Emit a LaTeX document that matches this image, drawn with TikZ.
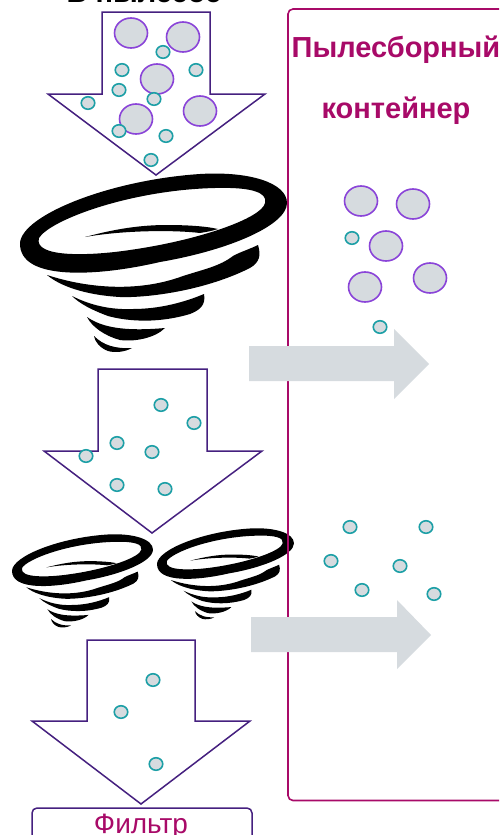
\documentclass[tikz,border=0pt]{standalone}
\usepackage{fontspec}
\setmainfont{Liberation Sans}
\usetikzlibrary{shapes.geometric}

\definecolor{flowline}{HTML}{45207F}
\definecolor{binline}{HTML}{A80A68}
\definecolor{dustfill}{HTML}{D6DBDF}
\definecolor{coarseline}{HTML}{8A44D8}
\definecolor{fineline}{HTML}{1C9FA6}

\tikzset{
  coarse/.style={ellipse,draw=coarseline,fill=dustfill,line width=1.6pt,inner sep=0pt,minimum width=33pt,minimum height=30pt},
  fine/.style={ellipse,draw=fineline,fill=dustfill,line width=1.6pt,inner sep=0pt,minimum width=13.5pt,minimum height=12.5pt},
  flow/.style={draw=flowline,line width=1.5pt,fill=white,line join=miter},
  outflow/.style={fill=dustfill,draw=none},
  title/.style={text=binline,font=\bfseries\fontsize{29}{33}\selectfont,inner sep=0pt},
  tornado/.pic={
    \begin{scope}[shift={(-20,-173)}]
    % ring, with its hole
    \fill[black,even odd rule]
      (20,243) .. controls (22,215) and (110,180) .. (200,174)
      .. controls (250,171) and (287,183) .. (287,203)
      .. controls (287,225) and (230,250) .. (160,262)
      .. controls (100,276) and (19,282) .. (20,243) -- cycle
      (39,238) .. controls (50,220) and (130,190) .. (215,188)
      .. controls (250,187) and (268,192) .. (265,203)
      .. controls (262,218) and (200,240) .. (130,250)
      .. controls (90,256) and (33,258) .. (39,238) -- cycle;
    % swirl in the hole
    \fill[black] (85,237) .. controls (115,229) and (140,225) .. (167,225)
      .. controls (185,225) and (205,226) .. (218,229)
      .. controls (212,231) and (206,232) .. (200,233)
      .. controls (175,230) and (125,230) .. (85,237) -- cycle;
    % bands going down
    \fill[black] (47,275) .. controls (90,289) and (140,292) .. (183,276)
      .. controls (205,269) and (220,266) .. (233,256)
      .. controls (240,252) and (250,249) .. (258,245)
      .. controls (261,255) and (260,262) .. (250,268)
      .. controls (200,293) and (140,298) .. (120,297)
      .. controls (85,295) and (60,286) .. (47,275) -- cycle;
    \fill[black] (72,296) .. controls (90,305) and (110,310) .. (133,309)
      .. controls (160,309) and (185,302) .. (204,294)
      .. controls (206,305) and (200,310) .. (190,314)
      .. controls (160,323) and (130,322) .. (108,316)
      .. controls (92,310) and (80,304) .. (72,296) -- cycle;
    \fill[black] (87,317) .. controls (100,326) and (120,332) .. (165,328)
      .. controls (155,338) and (135,342) .. (120,340)
      .. controls (105,336) and (92,327) .. (87,317) -- cycle;
    \fill[black] (94,336) .. controls (103,345) and (115,349) .. (132,348)
      .. controls (125,352) and (115,353) .. (108,351)
      .. controls (100,348) and (95,342) .. (94,336) -- cycle;
    \end{scope}
  }
}

\begin{document}
\begin{tikzpicture}[x=1pt,y=-1pt]
\useasboundingbox (0,0) rectangle (499,835);

\pic at (20,173) {tornado};
\pic[xscale=0.528,yscale=0.522] at (12,534) {tornado};
\pic[xscale=0.513,yscale=0.51] at (157,528) {tornado};

% container and filter, both run off the page
\draw[binline,line width=1.6pt,rounded corners=5pt] (499,9) -- (288,9) -- (288,800.5) -- (499,800.5);
\draw[flowline,line width=1.5pt,rounded corners=5pt] (32,836) -- (32,808) -- (252,808) -- (252,836);

\path[flow] (102,12) -- (210,12) -- (210,94) -- (265,94) -- (156,175) -- (48,94) -- (102,94) -- cycle;
\path[flow] (98,369) -- (207,369) -- (207,451) -- (262,451) -- (152,533) -- (44,451) -- (98,451) -- cycle;
\path[flow] (87,640) -- (195,640) -- (195,721) -- (250,721) -- (141,804) -- (32,721) -- (87,721) -- cycle;

\path[outflow] (249,346) -- (394,346) -- (394,329) -- (429,364) -- (394,399) -- (394,381) -- (249,381) -- cycle;
\path[outflow] (251,617) -- (397,617) -- (397,600) -- (431,635) -- (397,669) -- (397,652) -- (251,652) -- cycle;

\node[anchor=base,font=\bfseries\fontsize{29}{33}\selectfont,inner sep=0pt] (intake) at (144,2) {В пылесос};
\node[title,anchor=base] (binA) at (396,57) {Пылесборный};
\node[title,anchor=base] (binB) at (396,118) {контейнер};
\node[anchor=base,text=binline,font=\fontsize{28}{32}\selectfont,inner sep=0pt] (filter) at (141,833) {Фильтр};

\node[coarse] (C1) at (131,33) {};
\node[coarse] (C2) at (183,37) {};
\node[coarse] (C3) at (157,79) {};
\node[coarse] (C4) at (136,119) {};
\node[coarse] (C5) at (200,111) {};

\node[fine] (F1) at (163,52) {};
\node[fine] (F2) at (122,70) {};
\node[fine] (F3) at (196,70) {};
\node[fine] (F4) at (119,90) {};
\node[fine] (F5) at (154,99) {};
\node[fine] (F6) at (88,103) {};
\node[fine] (F7) at (119,131) {};
\node[fine] (F8) at (166,136) {};
\node[fine] (F9) at (151,160) {};

\node[fine] (G1) at (161,405) {};
\node[fine] (G2) at (194,423) {};
\node[fine] (G3) at (117,443) {};
\node[fine] (G4) at (152,452) {};
\node[fine] (G5) at (86,456) {};
\node[fine] (G6) at (117,485) {};
\node[fine] (G7) at (165,489) {};

\node[fine] (H1) at (153,680) {};
\node[fine] (H2) at (121,712) {};
\node[fine] (H3) at (156,764) {};

\node[coarse] (T1) at (361,201) {};
\node[coarse] (T2) at (413,204) {};
\node[coarse] (T3) at (386,246) {};
\node[coarse] (T4) at (365,287) {};
\node[coarse] (T5) at (430,278) {};
\node[fine] (T6) at (352,238) {};
\node[fine] (T7) at (380,327) {};

\node[fine] (U1) at (350,527) {};
\node[fine] (U2) at (426,527) {};
\node[fine] (U3) at (331,561) {};
\node[fine] (U4) at (400,566) {};
\node[fine] (U5) at (362,590) {};
\node[fine] (U6) at (434,594) {};

\end{tikzpicture}
\end{document}
